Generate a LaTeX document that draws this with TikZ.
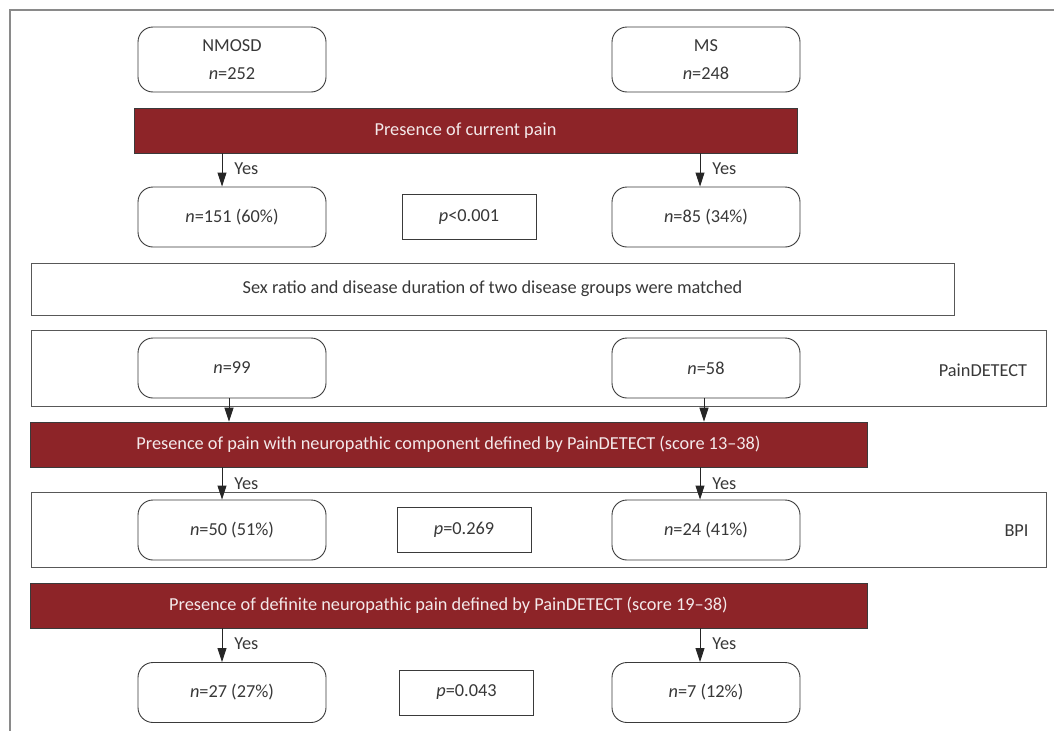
\documentclass[tikz,border=0pt]{standalone}
\usepackage{fontspec}
\setmainfont{Carlito}
\usetikzlibrary{arrows.meta}
\definecolor{barred}{HTML}{8D2428}
\definecolor{txt}{HTML}{383838}
\definecolor{edge}{HTML}{3A3A3A}
\definecolor{frameg}{HTML}{8A8A8A}
\tikzset{
  rbox/.style={draw=edge, line width=0.9pt, rounded corners=15pt, fill=white,
    minimum width=188pt, minimum height=60pt, align=center, text=txt, inner sep=0pt},
  pbox/.style={draw=edge, line width=0.9pt, fill=white, minimum width=134pt,
    minimum height=45pt, text=txt, inner sep=0pt},
  bar/.style={draw=edge, line width=0.6pt, fill=barred, minimum height=45pt,
    text=white!90!barred, inner sep=0pt},
  wframe/.style={draw=edge!85, line width=1pt, inner sep=0pt},
  arr/.style={draw=black!85, line width=0.9pt, -{Triangle[length=14pt,width=9pt]}},
  yes/.style={anchor=west, text=txt, inner sep=0pt, xshift=12pt},
  lbl/.style={text=txt, inner sep=0pt}
}
\begin{document}
\begin{tikzpicture}[x=1pt,y=-1pt, font=\fontsize{18.3}{22}\selectfont]
\useasboundingbox (0,0) rectangle (1054,731);
% outer frame (top and left edges)
\draw[frameg, line width=2pt] (1054,9.5) -- (9.5,9.5) -- (9.5,731);

% top
\node[rbox, minimum height=65pt] (nmosd) at (232,59.5) {NMOSD\\[6pt]\textit{n}=252};
\node[rbox, minimum height=65pt] (ms) at (706,59.5) {MS\\[6pt]\textit{n}=248};
\node[bar, minimum width=663pt] (red1) at (465.5,130.5) {Presence of current pain};

\node[rbox] (n151) at (232,217) {\textit{n}=151 (60\%)};
\node[pbox] (p1) at (469,217) {\textit{p}<0.001};
\node[rbox] (n85) at (706,217) {\textit{n}=85 (34\%)};

\coordinate (a1) at ([xshift=-10]n151.north);
\coordinate (a2) at ([xshift=-6]n85.north);
\draw[arr] (a1 |- red1.south) -- node[yes, pos=0.45] {Yes} (a1);
\draw[arr] (a2 |- red1.south) -- node[yes, pos=0.45] {Yes} (a2);

% matched
\node[wframe, minimum width=923pt, minimum height=52pt, text=txt] (sex) at (492.5,289)
  {Sex ratio and disease duration of two disease groups were matched};

% PainDETECT frame
\node[wframe, minimum width=1015pt, minimum height=76pt] (pdf) at (538.5,368) {};
\node[rbox] (n99) at (232,368) {\textit{n}=99};
\node[rbox] (n58) at (706,368) {\textit{n}=58};
\node[lbl] (pdt) at (983,370) {PainDETECT};

\node[bar, minimum width=837pt] (red2) at (448.5,444.5)
  {Presence of pain with neuropathic component defined by PainDETECT (score 13--38)};

\coordinate (b1) at ([xshift=-3]n99.south);
\coordinate (b2) at ([xshift=-2]n58.south);
\draw[arr] (b1) -- (b1 |- red2.north);
\draw[arr] (b2) -- (b2 |- red2.north);

% BPI frame
\node[wframe, minimum width=1015pt, minimum height=75pt] (bpif) at (538.5,529.5) {};
\node[rbox] (n50) at (232,530) {\textit{n}=50 (51\%)};
\node[pbox] (p2) at (464,529.5) {\textit{p}=0.269};
\node[rbox] (n24) at (706,530) {\textit{n}=24 (41\%)};
\node[lbl] (bpi) at (1016.5,531) {BPI};

\coordinate (c1) at ([xshift=-10]n50.north);
\coordinate (c2) at ([xshift=-6]n24.north);
\draw[arr] (c1 |- red2.south) -- node[yes, pos=0.5] {Yes} (c1);
\draw[arr] (c2 |- red2.south) -- node[yes, pos=0.5] {Yes} (c2);

% definite
\node[bar, minimum width=837pt] (red3) at (448.5,605.5)
  {Presence of definite neuropathic pain defined by PainDETECT (score 19--38)};

\node[rbox] (n27) at (232,692.5) {\textit{n}=27 (27\%)};
\node[pbox] (p3) at (466.5,692.5) {\textit{p}=0.043};
\node[rbox] (n7) at (706,692.5) {\textit{n}=7 (12\%)};

\coordinate (d1) at ([xshift=-10]n27.north);
\coordinate (d2) at ([xshift=-6]n7.north);
\draw[arr] (d1 |- red3.south) -- node[yes, pos=0.45] {Yes} (d1);
\draw[arr] (d2 |- red3.south) -- node[yes, pos=0.45] {Yes} (d2);
\end{tikzpicture}
\end{document}
